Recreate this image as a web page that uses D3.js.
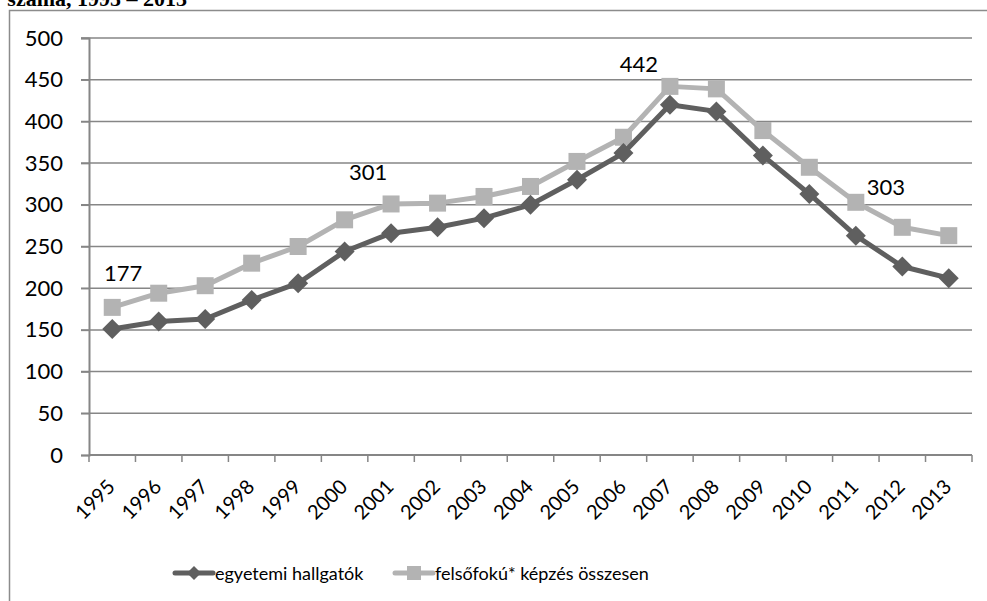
<!DOCTYPE html>
<html>
<head>
<meta charset="utf-8">
<script src="https://cdn.jsdelivr.net/npm/d3@7"></script>
<style>
  body { margin: 0; background: #fff; }
  text { font-family: Lato, "Open Sans", sans-serif; fill: #000; }
</style>
</head>
<body>
<div id="chart"></div>
<script>
// data
var years = ["1995","1996","1997","1998","1999","2000","2001","2002","2003","2004",
             "2005","2006","2007","2008","2009","2010","2011","2012","2013"];
var egyetemi = [151,160,163,186,206,244,266,273,284,300,330,362,420,412,359,313,263,226,212];
var felsofoku = [177,194,203,230,250,282,301,302,310,322,352,381,442,439,389,345,303,273,263];
var yTicks = [0,50,100,150,200,250,300,350,400,450,500];
var labelYears = ["1995","2001","2007","2011"];
var labelValues = [177,301,442,303];
var seriesNames = ["egyetemi hallgatók","felsőfokú* képzés összesen"];

(function(){
    var width = 987,
        height = 601;

    var svg = d3.select("#chart")
        .append("svg")
        .attr("width", width)
        .attr("height", height)

    // outer frame (only left/top visible)
    svg.append("path")
        .attr("d", "M9.5," + height + "V10.5H" + width)
        .attr("fill", "none")
        .attr("stroke", "#8c8c8c")
        .attr("stroke-width", 1.5)

    // title, cut off at the top like in the source
    svg.append("text")
        .attr("x", 187)
        .attr("y", 6)
        .attr("text-anchor", "end")
        .style("font-family", "'Liberation Serif', serif")
        .style("font-weight", "bold")
        .style("font-size", "22px")
        .text("száma, 1995 – 2013")

    var left = 89, right = 972, top = 38, bottom = 455;

    var x = d3.scaleBand().domain(years).range([left, right]);
    var y = d3.scaleLinear().domain([0, 500]).range([bottom, top]);

    // grid
    svg.selectAll(".grid")
        .data(yTicks.slice(1))
        .enter().append("line")
        .attr("class", "grid")
        .attr("x1", left - 8)
        .attr("x2", right)
        .attr("y1", function(d){ return y(d); })
        .attr("y2", function(d){ return y(d); })
        .attr("stroke", "#868686")
        .attr("stroke-width", 1.5)

    // y axis
    var yAxis = svg.append("g")
        .attr("transform", "translate(" + left + ",0)")
        .call(d3.axisLeft(y).tickValues(yTicks).tickSize(8).tickPadding(18));
    yAxis.select(".domain").attr("stroke", "#868686").attr("stroke-width", 2)
    yAxis.selectAll(".tick line").attr("stroke", "#868686").attr("stroke-width", 1.5)
    yAxis.selectAll(".tick text").style("font-size", "22px").style("font-family", "Lato, sans-serif")

    // x axis
    var xTick = d3.scaleLinear().domain([0, years.length]).range([left, right]);
    svg.append("line")
        .attr("x1", left).attr("x2", right)
        .attr("y1", bottom).attr("y2", bottom)
        .attr("stroke", "#868686").attr("stroke-width", 2)
    svg.selectAll(".xtick")
        .data(d3.range(years.length + 1))
        .enter().append("line")
        .attr("class", "xtick")
        .attr("x1", function(d){ return xTick(d); })
        .attr("x2", function(d){ return xTick(d); })
        .attr("y1", bottom)
        .attr("y2", bottom + 7)
        .attr("stroke", "#868686").attr("stroke-width", 1.5)

    svg.selectAll(".xlabel")
        .data(years)
        .enter().append("text")
        .attr("class", "xlabel")
        .attr("text-anchor", "end")
        .style("font-size", "20px")
        .attr("transform", function(d){
            return "translate(" + (x(d) + x.bandwidth() / 2 + 4) + "," + (bottom + 33) + ") rotate(-45)";
        })
        .text(function(d){ return d; })

    var cx = function(d, i){ return x(years[i]) + x.bandwidth() / 2; };

    var series = [
        {values: felsofoku, color: "#b3b3b3", shape: "square"},
        {values: egyetemi, color: "#5f5f5f", shape: "diamond"}
    ];

    var line = d3.line()
        .x(function(d, i){ return cx(d, i); })
        .y(function(d){ return y(d); });

    series.forEach(function(s){
        svg.append("path")
            .datum(s.values)
            .attr("d", line)
            .attr("fill", "none")
            .attr("stroke", s.color)
            .attr("stroke-width", 5)
            .attr("stroke-linejoin", "round")

        svg.selectAll(".m-" + s.shape)
            .data(s.values)
            .enter().append("path")
            .attr("class", "m-" + s.shape)
            .attr("transform", function(d, i){
                return "translate(" + cx(d, i) + "," + y(d) + ")";
            })
            .attr("d", s.shape == "square" ? "M-8.5,-8.5H8.5V8.5H-8.5Z" : "M0,-10L10,0L0,10L-10,0Z")
            .attr("fill", s.color)
    });

    // data labels (manually placed in the original)
    var labelShift = [[11, -35], [-23, -32], [-31, -23], [30, -16]];
    svg.selectAll(".dlabel")
        .data(labelValues)
        .enter().append("text")
        .attr("class", "dlabel")
        .attr("text-anchor", "middle")
        .attr("dominant-baseline", "central")
        .style("font-size", "22px")
        .attr("x", function(d, i){ return x(labelYears[i]) + x.bandwidth() / 2 + labelShift[i][0]; })
        .attr("y", function(d, i){ return y(d) + labelShift[i][1]; })
        .text(function(d){ return d; })

    // legend
    var legendX = [175, 395];
    var legendSeries = [series[1], series[0]];
    legendSeries.forEach(function(s, i){
        var g = svg.append("g").attr("transform", "translate(" + legendX[i] + ",573)");
        g.append("line")
            .attr("x1", 0).attr("x2", 38)
            .attr("stroke", s.color).attr("stroke-width", 5).attr("stroke-linecap", "round")
        g.append("path")
            .attr("transform", "translate(19,0)")
            .attr("d", s.shape == "square" ? "M-7,-7H7V7H-7Z" : "M0,-7L7,0L0,7L-7,0Z")
            .attr("fill", s.color)
        g.append("text")
            .attr("x", 40)
            .attr("dominant-baseline", "central")
            .style("font-size", "18px")
            .text(seriesNames[i])
    });
})();
</script>
</body>
</html>
